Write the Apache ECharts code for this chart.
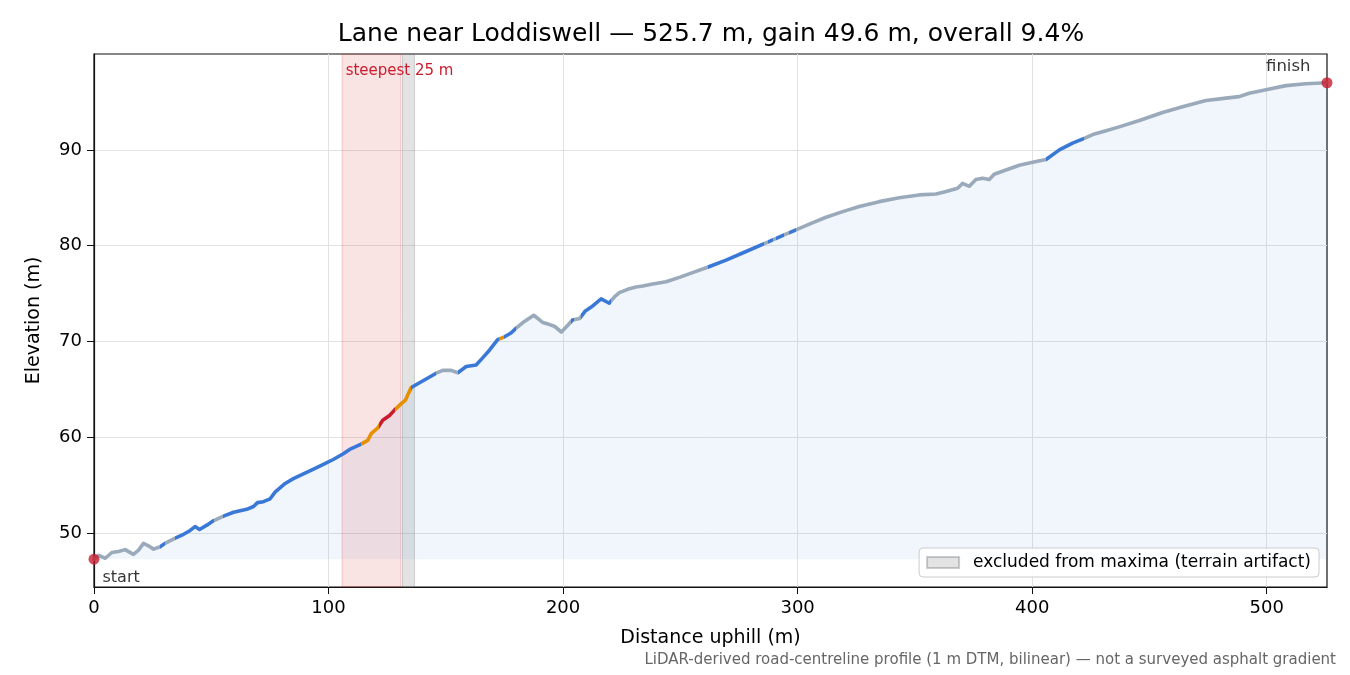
<!DOCTYPE html>
<html>
<head>
<meta charset="utf-8">
<script src="https://cdn.jsdelivr.net/npm/echarts@6/dist/echarts.min.js"></script>
<style>
  html, body { margin: 0; padding: 0; background: #fff; }
  #chart { width: 1350px; height: 675px; }
</style>
</head>
<body>
<div id="chart"></div>
<script>
// profile: distance uphill (m) and elevation (m)
const dist = [0, 2, 4.8, 7.6, 10.4, 13.3, 16.8, 19, 21.1, 23.2, 25.4, 28.2, 30.3, 34.6, 38.2, 41, 43.1, 45, 48.1, 50.9,
  55.2, 59.5, 65.1, 68, 69.7, 72.2, 75.1, 77.2, 81.5, 85, 89.3, 93.6, 97.8, 102, 106.3, 109, 113.9, 116.7, 118.2, 121,
  123.1, 126, 128.1, 130.9, 132.8, 135.2, 137.3, 141.6, 145.9, 148.7, 152.3, 155.1, 158.7, 162.9, 165.7, 168.6, 172.1, 175, 177.8, 180,
  183.5, 187.5, 191.3, 194, 196.3, 199.3, 202, 204, 207, 209.5, 212, 216.2, 219.7, 222, 224, 227.5, 231.1, 234, 238.2, 243.9,
  249.6, 255.2, 261.6, 269.5, 278, 286.5, 295, 299.3, 305, 312.1, 319.2, 326.3, 334.8, 343.3, 351.8, 359, 363.3, 368.2, 370.3, 373.2,
  376, 378.9, 381.7, 383.8, 388.8, 394.5, 400.2, 405.9, 411.6, 417.2, 422.2, 425.8, 431.5, 437.1, 445.7, 455.6, 464.1, 474.1, 482.6, 488.3,
  492.5, 499.7, 508.2, 516.7, 525.7];
const elev = [47.3, 47.7, 47.4, 48.0, 48.1, 48.3, 47.8, 48.25, 48.95, 48.7, 48.35, 48.6, 48.95, 49.5, 49.9, 50.3, 50.7, 50.4, 50.85, 51.3,
  51.8, 52.2, 52.5, 52.8, 53.2, 53.3, 53.6, 54.3, 55.2, 55.7, 56.2, 56.7, 57.2, 57.7, 58.3, 58.75, 59.3, 59.7, 60.4, 61.0,
  61.8, 62.3, 62.85, 63.5, 63.9, 65.2, 65.5, 66.1, 66.7, 67.0, 67.0, 66.75, 67.4, 67.55, 68.3, 69.1, 70.2, 70.5, 70.9, 71.4,
  72.1, 72.75, 72.0, 71.8, 71.6, 71.0, 71.7, 72.25, 72.4, 73.2, 73.6, 74.45, 74.0, 74.7, 75.1, 75.45, 75.7, 75.8, 76.0, 76.25,
  76.7, 77.2, 77.75, 78.5, 79.4, 80.3, 81.2, 81.65, 82.25, 82.97, 83.56, 84.1, 84.6, 85.0, 85.3, 85.4, 85.65, 86.0, 86.5, 86.2,
  86.9, 87.05, 86.9, 87.45, 87.9, 88.4, 88.7, 89.0, 90.0, 90.7, 91.2, 91.6, 92.0, 92.4, 93.06, 93.9, 94.5, 95.15, 95.4, 95.55,
  95.9, 96.26, 96.7, 96.9, 97.0];

// gradient classes along the road: 0 gentle, 1 moderate, 2 steep, 3 steepest
const bandFrom  = [0, 28.2, 30.3, 34.6, 51, 55.2, 113.9, 121.3, 128.3, 135.2, 146, 155, 172.6, 174.8, 180, 203.4, 204.8, 207.6, 220.4,
  261.6, 285.8, 287.2, 289.3, 290.7, 294.3, 296.4, 299.2, 405.9, 422.2];
const bandTo    = [28.2, 30.3, 34.6, 51, 55.2, 113.9, 121.3, 128.3, 135.2, 146, 155, 172.6, 174.8, 180, 203.4, 204.8, 207.6, 220.4, 261.6,
  285.8, 287.2, 289.3, 290.7, 294.3, 296.4, 299.2, 405.9, 422.2, 526];
const bandClass = [0, 1, 0, 1, 0, 1, 2, 3, 2, 1, 0, 1, 2, 1, 0, 1, 0, 1, 0,
  1, 0, 1, 0, 1, 0, 1, 0, 1, 0];
const classColors = ['#9aaabb', '#3a78d8', '#e69000', '#c81d2e'];

const steepest = [105.8, 130.8];
const excluded = [131.5, 136.6];
const xTicks = { min: 0, max: 525.7, step: 100 };
const yRange = [44.4, 100];
const titleText = 'Lane near Loddiswell — 525.7 m, gain 49.6 m, overall 9.4%';
const noteText = 'LiDAR-derived road-centreline profile (1 m DTM, bilinear) — not a surveyed asphalt gradient';
const legendName = 'excluded from maxima (terrain artifact)';

const points = dist.map((d, i) => [d, elev[i]]);
const last = points.length - 1;
const pieces = bandFrom.map((f, i) => ({ gte: f, lt: bandTo[i], color: classColors[bandClass[i]] }));

const FONT = 'DejaVu Sans';
const myChart = echarts.init(document.getElementById('chart'));

myChart.setOption({
  animation: false,
  textStyle: { fontFamily: FONT },
  grid: { left: 94, right: 23, top: 54, bottom: 88, show: true, borderColor: '#111', borderWidth: 1.2 },
  graphic: [
    { type: 'text', x: 711, y: 34, style: { text: titleText, font: '25px "DejaVu Sans"', fill: '#000', align: 'center', verticalAlign: 'middle' } },
    { type: 'text', x: 1336, y: 660, style: { text: noteText, font: '15px "DejaVu Sans"', fill: '#666', align: 'right', verticalAlign: 'middle' } }
  ],
  legend: {
    right: 31, top: 548,
    data: [legendName],
    icon: 'rect',
    itemWidth: 32, itemHeight: 11,
    padding: [6, 8, 6, 7],
    backgroundColor: 'rgba(255,255,255,0.85)',
    borderColor: '#cccccc', borderWidth: 1, borderRadius: 4,
    textStyle: { fontFamily: FONT, fontSize: 17, color: '#000', padding: [0, 0, 0, 9] }
  },
  visualMap: {
    show: false,
    type: 'piecewise',
    dimension: 0,
    seriesIndex: 1,
    pieces: pieces,
    outOfRange: { color: classColors[0] }
  },
  xAxis: {
    type: 'value',
    min: xTicks.min, max: xTicks.max, interval: xTicks.step,
    name: 'Distance uphill (m)', nameLocation: 'middle', nameGap: 42,
    nameTextStyle: { fontFamily: FONT, fontSize: 19, color: '#000' },
    axisLine: { show: true, lineStyle: { color: '#111', width: 1.2 } },
    axisTick: { show: true, length: 7, lineStyle: { color: '#111' } },
    axisLabel: { fontFamily: FONT, fontSize: 18, color: '#000', margin: 12, showMaxLabel: false },
    splitLine: { show: true, showMinLine: false, showMaxLine: false, lineStyle: { color: '#e2e2e2', width: 1 } }
  },
  yAxis: {
    type: 'value',
    min: yRange[0], max: yRange[1],
    name: 'Elevation (m)', nameLocation: 'middle', nameGap: 50,
    nameTextStyle: { fontFamily: FONT, fontSize: 19, color: '#000' },
    axisLine: { show: true, lineStyle: { color: '#111', width: 1.2 } },
    axisTick: { show: true, length: 7, lineStyle: { color: '#111' } },
    axisLabel: { fontFamily: FONT, fontSize: 18, color: '#000', margin: 12, showMinLabel: false, showMaxLabel: false },
    splitLine: { show: true, showMinLine: false, showMaxLine: false, lineStyle: { color: '#e2e2e2', width: 1 } }
  },
  series: [
    {
      // shaded area under the profile + highlighted bands
      name: 'fill',
      type: 'line',
      data: points,
      showSymbol: false,
      lineStyle: { width: 0 },
      areaStyle: { color: 'rgba(58,118,216,0.1)', origin: elev[0] },
      z: 2,
      markArea: {
        silent: true,
        data: [
          [{ xAxis: steepest[0], itemStyle: { color: 'rgba(214,39,40,0.13)', borderColor: 'rgba(214,39,40,0.22)', borderWidth: 1 },
             label: { show: true, formatter: 'steepest 25 m', position: [4, 10], color: '#c81d2e', fontSize: 15, fontFamily: FONT, align: 'left' } },
           { xAxis: steepest[1] }],
          [{ xAxis: excluded[0], itemStyle: { color: 'rgba(128,128,128,0.22)', borderColor: 'rgba(110,110,110,0.3)', borderWidth: 1 } },
           { xAxis: excluded[1] }]
        ]
      }
    },
    {
      name: 'profile',
      type: 'line',
      data: points,
      showSymbol: false,
      lineStyle: { width: 3.6, join: 'round', cap: 'round' },
      z: 4
    },
    {
      name: legendName,
      type: 'line',
      data: [],
      itemStyle: { color: 'rgba(128,128,128,0.22)', borderColor: 'rgba(110,110,110,0.35)', borderWidth: 1 }
    },
    {
      name: 'ends',
      type: 'scatter',
      symbolSize: 11,
      itemStyle: { color: '#c81d2e' },
      z: 5,
      data: [
        { value: points[0], label: { show: true, formatter: 'start', position: [14, 16], align: 'left', verticalAlign: 'top', fontSize: 16, fontFamily: FONT, color: '#000' } },
        { value: points[last], label: { show: true, formatter: 'finish', position: [-11, -19], align: 'right', verticalAlign: 'top', fontSize: 16.5, fontFamily: FONT, color: '#000' } }
      ]
    }
  ]
});

window.addEventListener('resize', () => {
  myChart.resize();
});
</script>
</body>
</html>
